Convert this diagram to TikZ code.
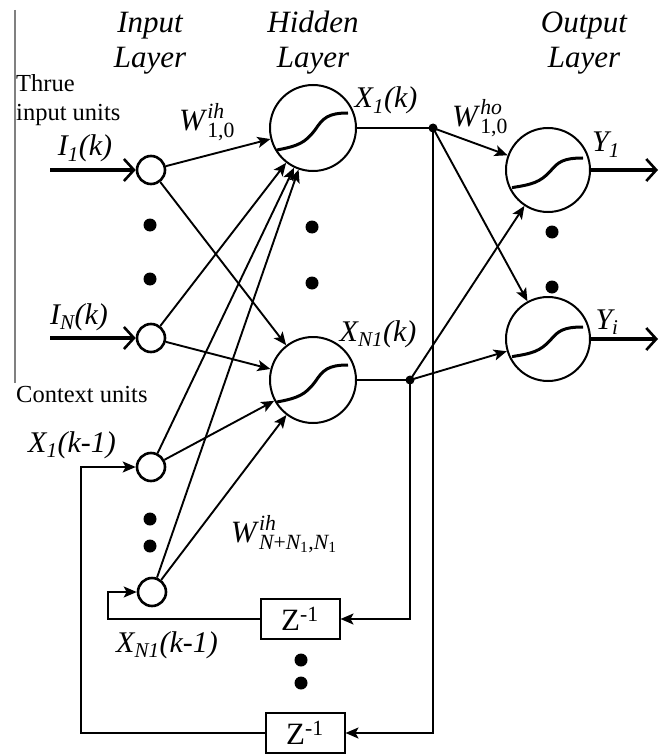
\documentclass[tikz,border=0pt]{standalone}
\usepackage{amsmath}
\usepackage{fontspec}
\setmainfont{Liberation Serif}
\usetikzlibrary{arrows.meta}

\tikzset{
  unit/.style={circle, draw, line width=2.6pt, minimum size=28pt, inner sep=0pt},
  neuron/.style={circle, draw, line width=2pt, minimum size=86pt, inner sep=0pt},
  delay/.style={draw, line width=2pt, minimum width=79pt, minimum height=40pt, inner sep=0pt,
    font=\fontsize{31}{36}\selectfont},
  wire/.style={line width=1.9pt},
  link/.style={wire, -{Stealth[length=13pt, width=11pt, inset=3pt]}},
  bigarrow/.style={line width=4pt, -{Straight Barb[length=10pt, width=22pt, line width=2.6pt]}},
  title/.style={font=\fontsize{31}{37}\selectfont\itshape, inner sep=0pt, anchor=base},
  lab/.style={font=\fontsize{30}{36}\selectfont\itshape, inner sep=0pt, anchor=base},
  weight/.style={font=\fontsize{31}{36}\selectfont, inner sep=0pt},
  note/.style={font=\fontsize{24.5}{29}\selectfont, inner sep=0pt, anchor=base west},
  sigmoid/.pic={\draw[line width=3pt] (-36,22) .. controls (-15,18) and (-8,15) .. (2,2)
    .. controls (10,-10) and (15,-15) .. (35,-15);}
}

\begin{document}
\begin{tikzpicture}[x=1pt, y=-1pt]
  \useasboundingbox (0,0) rectangle (669,754);

  % layer titles
  \node[title] (tin1) at (150,33) {Input};
  \node[title] (tin2) at (150,68) {Layer};
  \node[title] (thid1) at (313,33) {Hidden};
  \node[title] (thid2) at (313,68) {Layer};
  \node[title] (tout1) at (584,33) {Output};
  \node[title] (tout2) at (584,68) {Layer};

  % group labels
  \draw[gray, line width=1.2pt] (15,10) -- (15,383);
  \node[note] (ntrue1) at (16,92) {Thrue};
  \node[note] (ntrue2) at (16,121) {input units};
  \node[note] (nctx) at (16,402) {Context units};

  % input and context units
  \node[unit] (in1) at (151,170) {};
  \node[unit] (inN) at (151,338) {};
  \node[unit] (c1) at (151,467) {};
  \node[unit] (cN) at (152,592) {};
  \fill (150,225) circle (6.5pt) (150,279) circle (6.5pt);
  \fill (150,519) circle (6.5pt) (150,546) circle (6.5pt);

  % hidden and output neurons
  \node[neuron] (h1) at (313,128) {};
  \node[neuron] (hN) at (313,380) {};
  \node[neuron, minimum size=84pt] (o1) at (548,170) {};
  \node[neuron, minimum size=84pt] (o2) at (548,339) {};
  \pic at (h1) {sigmoid};
  \pic at (hN) {sigmoid};
  \pic[yscale=0.8] at (o1) {sigmoid};
  \pic[yscale=0.8] at (o2) {sigmoid};
  \fill (312,227) circle (6.5pt) (312,283) circle (6.5pt);
  \fill (552,232) circle (6.5pt) (552,287) circle (6.5pt);

  % delays
  \node[delay] (z1) at (300,619) {Z\textsuperscript{-1}};
  \node[delay] (z2) at (305,733) {Z\textsuperscript{-1}};
  \fill (301,660) circle (6.5pt) (301,683) circle (6.5pt);

  % signal labels
  \node[lab] (lin1) at (85,156) {I\textsubscript{1}(k)};
  \node[lab] (linN) at (79,324) {I\textsubscript{N}(k)};
  \node[lab] (lh1) at (386,108) {X\textsubscript{1}(k)};
  \node[lab] (lhN) at (378,341) {X\textsubscript{N1}(k)};
  \node[lab] (lc1) at (72,452) {X\textsubscript{1}(k-1)};
  \node[lab] (lcN) at (167,652) {X\textsubscript{N1}(k-1)};
  \node[lab] (lo1) at (606,152) {Y\textsubscript{1}};
  \node[lab] (lo2) at (607,329) {Y\textsubscript{i}};
  \node[weight] (w1) at (207,122) {$\textit{W\/}^{\textit{ih}}_{\text{1,0}}$};
  \node[weight] (w2) at (284,534)
    {$\textit{W\/}^{\textit{ih}}_{\textit{N}\text{+}\textit{N}_{\text{1}}\text{,}\textit{N}_{\text{1}}}$};
  \node[weight] (w3) at (480,118) {$\textit{W\/}^{\textit{ho}}_{\text{1,0}}$};

  % external inputs and outputs
  \coordinate (src1) at (50,170);
  \coordinate (srcN) at (50,338);
  \coordinate (dst1) at (658,170);
  \coordinate (dst2) at (658,339);
  \draw[bigarrow] (src1) -- (in1);
  \draw[bigarrow] (srcN) -- (inN);
  \draw[bigarrow] (o1) -- (dst1);
  \draw[bigarrow] (o2) -- (dst2);

  % input -> hidden
  \foreach \src in {in1, inN, c1, cN}
    \foreach \dst in {h1, hN}
      \draw[link] (\src) -- (\dst);

  % hidden -> output
  \coordinate (j1) at (433,128);
  \coordinate (j2) at (410,380);
  \draw[wire] (h1) -- (j1);
  \draw[wire] (hN) -- (j2);
  \fill (j1) circle (4.5pt) (j2) circle (4.5pt);
  \foreach \src in {j1, j2}
    \foreach \dst in {o1, o2}
      \draw[link] (\src) -- (\dst);

  % feedback through the delays
  \coordinate (fb1) at (108,619);
  \coordinate (fb2) at (81,733);
  \draw[link] (j2) |- (z1);
  \draw[link] (j1) |- (z2);
  \draw[link] (z1) -- (fb1) |- (cN);
  \draw[link] (z2) -- (fb2) |- (c1);
\end{tikzpicture}
\end{document}
